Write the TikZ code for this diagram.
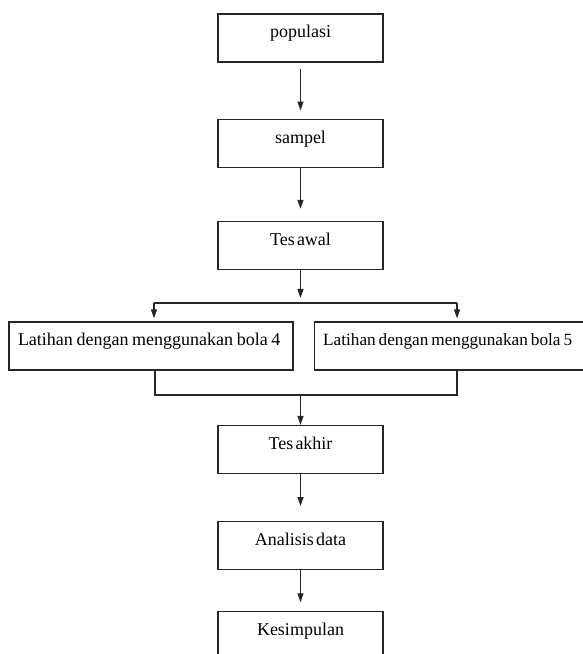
\documentclass[tikz,border=0pt]{standalone}
\usepackage{fontspec}
\setmainfont{Liberation Serif}[WordSpace=0.5]
\usepackage{tikz}
\usetikzlibrary{arrows.meta, positioning}

\begin{document}
\begin{tikzpicture}[
      x=1pt, y=1pt,
      line width=1.2pt, draw=black!85,
      box/.style={draw, minimum width=165pt, inner xsep=0pt, inner ysep=0pt,
                  text height=24pt, text depth=24pt, align=center,
                  font=\fontsize{18}{20}\selectfont},
      widebox/.style={box, minimum width=284pt, text width=266pt, inner xsep=9pt,
                      align=left},
      arr/.style={-{Triangle[length=9pt, width=6pt]}}
    ]
    \useasboundingbox (0,0) rectangle (583,654);
    \node[box] (pop) at (300.5,616) {populasi};
    \node[box, below=56pt of pop] (smp) {sampel};
    \node[box, below=53pt of smp] (awal) {Tes awal};
    \node[widebox] (lat4) at (151,308)
      {\mbox{\spaceskip=3.6pt\relax Latihan dengan menggunakan bola 4}};
    \node[widebox, right=20pt of lat4, font=\fontsize{17.2}{20}\selectfont] (lat5)
      {\mbox{\spaceskip=3pt\relax Latihan dengan menggunakan bola 5}};
    \node[box] (akhir) at (300.5,204.5) {Tes akhir};
    \node[box, below=47pt of akhir] (anal) {Analisis data};
    \node[box, below=41pt of anal] (kes) {Kesimpulan};
    % cabang dan gabungan
    \coordinate (split) at (300.5,351);
    \coordinate (splitL) at (154,351);
    \coordinate (splitR) at (457,351);
    \coordinate (join) at (300.5,259);
    \coordinate (joinL) at (155,259);
    \coordinate (joinR) at (457,259);
    \draw[arr, shorten <=6pt, shorten >=8pt] (pop) -- (smp);
    \draw[arr, shorten >=12pt] (smp) -- (awal);
    \draw[arr, shorten >=5pt] (awal) -- (split);
    \draw (splitL) -- (splitR);
    \draw[arr, shorten >=3pt] (splitL) -- (splitL |- lat4.north);
    \draw[arr, shorten >=3pt] (splitR) -- (splitR |- lat5.north);
    \draw (lat4.south -| joinL) -- (joinL) -- (joinR) -- (lat5.south -| joinR);
    \draw[arr] (join) -- (akhir);
    \draw[arr, shorten >=15pt] (akhir) -- (anal);
    \draw[arr, shorten >=9pt] (anal) -- (kes);
  \end{tikzpicture}
\end{document}
